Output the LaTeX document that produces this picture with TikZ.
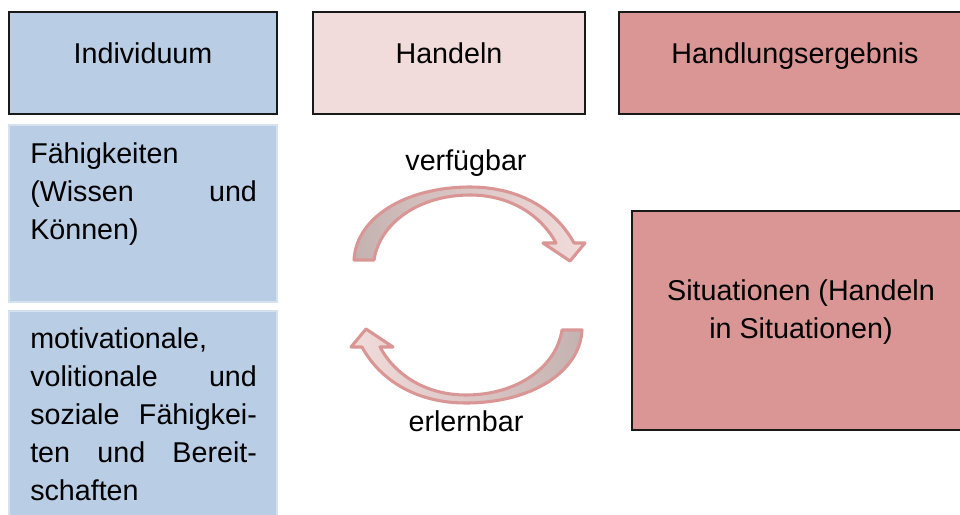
\documentclass[tikz,border=0pt]{standalone}
\usepackage{fontspec}
\setmainfont{Liberation Sans}
\definecolor{blueF}{HTML}{B9CDE5}
\definecolor{blueE}{HTML}{D5E1EF}
\definecolor{pinkL}{HTML}{F2DCDB}
\definecolor{pinkD}{HTML}{D99694}
\definecolor{grayP}{HTML}{C4B2B1}
\newcommand\diafont{\fontsize{21.5}{28.5}\selectfont}
\tikzset{
  hbox/.style={draw=black!90, line width=1.3pt},
  sbox/.style={draw=blueE, line width=0.8pt, fill=blueF},
  txt/.style={inner sep=0pt, font=\diafont},
  carrow/.style={draw=pinkD, line width=2.3pt, line join=round},
}
\begin{document}
\begin{tikzpicture}[x=0.75pt, y=-0.75pt]
\useasboundingbox (0,0) rectangle (960,514);
\clip (0,0) rectangle (960,514);
\fill[white] (0,0) rectangle (960,514);

% header boxes
\draw[hbox, fill=blueF] (9,12) rectangle (277,114);
\draw[hbox, fill=pinkL] (313,12) rectangle (585,114);
\draw[hbox, fill=pinkD] (619,12) rectangle (975,114);
\node[txt, anchor=base] (ind) at (143,63) {Individuum};
\node[txt, anchor=base] (han) at (449,63) {Handeln};
\node[txt, anchor=base] (erg) at (795,63) {Handlungsergebnis};

% left column boxes
\draw[sbox] (9,125) rectangle (277,302);
\draw[sbox] (9,311) rectangle (277,530);
\node[txt, anchor=base west] (fae) at (30,163)
  {\parbox[t]{170pt}{Fähigkeiten\\(Wissen\hfill und\\Können)}};
\node[txt, anchor=base west] (mot) at (30,348)
  {\parbox[t]{170pt}{motivationale,\\volitionale\hfill und\\soziale\hfill Fähigkei-\\ten\hfill und\hfill Bereit-\\schaften}};

% situation box
\draw[hbox, fill=pinkD] (632,211) rectangle (975,430);
\node[txt, anchor=base] (sit) at (801,300)
  {\parbox[t]{300pt}{\centering Situationen (Handeln\\in Situationen)}};

% labels
\node[txt, anchor=base] (verf) at (466,170) {verfügbar};
\node[txt, anchor=base] (erl) at (466,431) {erlernbar};

% upper curved arrow
\path[carrow, left color=grayP, right color=pinkL]
  (354,260) .. controls (356,218) and (405,187) .. (470,187)
  .. controls (520,187) and (556,210) .. (574,243)
  -- (585,243) -- (570,261) -- (543,243) -- (556,243)
  .. controls (541,215) and (510,195) .. (470,195)
  .. controls (420,195) and (380,222) .. (374,260) -- cycle;

% lower curved arrow
\path[carrow, left color=pinkL, right color=grayP]
  (582,330) .. controls (580,372) and (531,403) .. (466,403)
  .. controls (416,403) and (380,380) .. (362,347)
  -- (351,347) -- (366,329) -- (393,347) -- (380,347)
  .. controls (395,375) and (426,395) .. (466,395)
  .. controls (516,395) and (556,368) .. (562,330) -- cycle;
\end{tikzpicture}
\end{document}
